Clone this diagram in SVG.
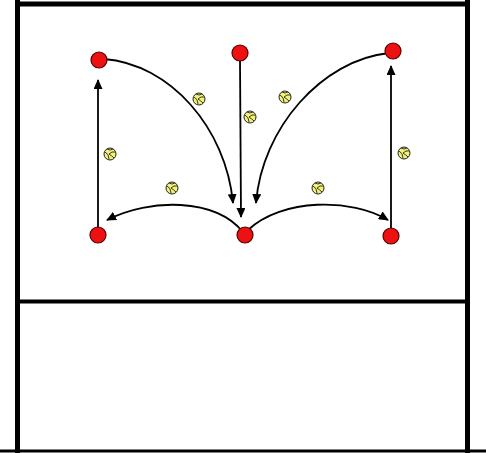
<svg xmlns="http://www.w3.org/2000/svg" xmlns:xlink="http://www.w3.org/1999/xlink" width="486" height="453" viewBox="0 0 486 453">
<style>
.frame{stroke:#000;stroke-width:5;fill:none}
.player{fill:#ee1111;stroke:#550000;stroke-width:1.2}
.con{stroke:#000;stroke-width:1.8;fill:none;marker-end:url(#ah)}
.ball{fill:#f2f27a;stroke:#222;stroke-width:1}
.seam{fill:none;stroke:#222;stroke-width:0.9}
</style>
<defs>
<marker id="ah" viewBox="0 0 10 10" refX="9" refY="5" markerWidth="10" markerHeight="9" markerUnits="userSpaceOnUse" orient="auto" preserveAspectRatio="none">
<path d="M0,0 L10,5 L0,10 z" fill="#000"/>
</marker>
<g id="vb">
<circle class="ball" r="6"/>
<path class="seam" d="M-5,-2 Q-1,0 -1,5 M-1,0 Q2,-3 5,-2 M-1,0 Q2,2 4,4 M-3,-5 Q0,-3 3,-5"/>
</g>
</defs>
<rect width="486" height="453" fill="#fff"/>
<g id="court">
<path class="frame" d="M17.5,0 V453 M467.5,0 V453 M17.5,4 H467.5"/>
<path d="M17,301.5 H468" stroke="#000" stroke-width="4"/>
<path d="M0,451 H486" stroke="#000" stroke-width="3"/>
</g>
<g id="connectors">
<path class="con" d="M98,228 V80"/>
<path class="con" d="M104,59 C170,64 226,128 233,203"/>
<path class="con" d="M240,60 L241,217"/>
<path class="con" d="M389,53 C322,60 262,128 256,203"/>
<path class="con" d="M391,228 V66"/>
<path class="con" d="M243,232 C215,198 150,198 107,220"/>
<path class="con" d="M248,230 C282,198 352,198 388,220"/>
</g>
<g id="balls">
<use xlink:href="#vb" x="199" y="99"/>
<use xlink:href="#vb" x="250" y="117"/>
<use xlink:href="#vb" x="285" y="97"/>
<use xlink:href="#vb" x="110" y="154"/>
<use xlink:href="#vb" x="172" y="188"/>
<use xlink:href="#vb" x="318" y="188"/>
<use xlink:href="#vb" x="404" y="153"/>
</g>
<g id="p-tl"><circle class="player" cx="99" cy="60" r="8"/></g>
<g id="p-tc"><circle class="player" cx="240" cy="53" r="8"/></g>
<g id="p-tr"><circle class="player" cx="393" cy="51" r="8"/></g>
<g id="p-bl"><circle class="player" cx="98" cy="235" r="8"/></g>
<g id="p-bc"><circle class="player" cx="245" cy="235" r="8"/></g>
<g id="p-br"><circle class="player" cx="391" cy="236" r="8"/></g>
</svg>
